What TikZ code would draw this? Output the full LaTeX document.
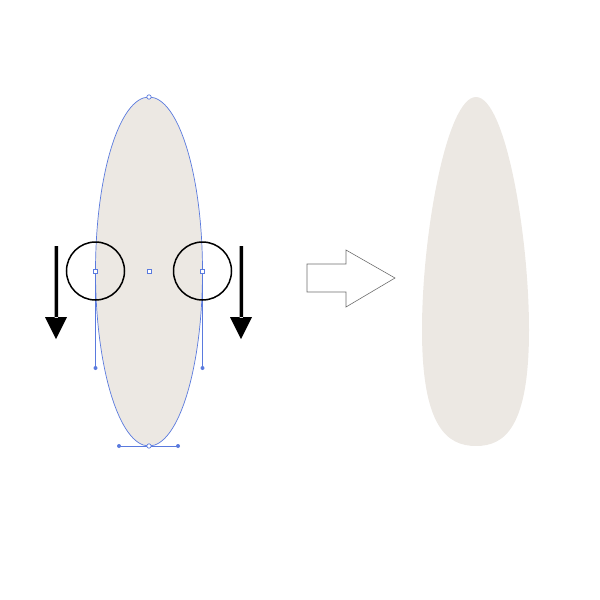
\documentclass[tikz,border=0pt]{standalone}
\usetikzlibrary{calc}
\begin{document}
\begin{tikzpicture}[x=0.5pt,y=-0.5pt,
  shapefill/.style={fill={rgb,255:red,236;green,232;blue,227}},
  pathline/.style={draw={rgb,255:red,90;green,122;blue,222},line width=0.35pt},
  anchorsq/.style={draw={rgb,255:red,90;green,122;blue,222},fill=white,line width=0.35pt},
  handledot/.style={fill={rgb,255:red,90;green,122;blue,222}},
  ringline/.style={draw=black,line width=0.75pt},
  bigarrow/.style={fill=black},
  hollowarrow/.style={draw={rgb,255:red,110;green,110;blue,110},line width=0.3pt,fill=white}]
\useasboundingbox (0,0) rectangle (600,600);
% left shape
\fill[shapefill] (149,271.5) ellipse [x radius=53.5, y radius=174.5];
\draw[pathline] (149,271.5) ellipse [x radius=53.5, y radius=174.5];
% handles
\coordinate (la) at (95.5,271);
\coordinate (ra) at (202.5,271);
\coordinate (lh) at (95.5,368);
\coordinate (rh) at (202.5,368);
\coordinate (bt) at (149,446);
\coordinate (bl) at (119,446);
\coordinate (br) at (178,446);
\coordinate (tp) at (149,97);
\coordinate (ct) at (149,271);
\draw[pathline] (la) -- (lh);
\draw[pathline] (ra) -- (rh);
\draw[pathline] (bl) -- (br);
\fill[handledot] (lh) circle (2);
\fill[handledot] (rh) circle (2);
\fill[handledot] (bl) circle (2);
\fill[handledot] (br) circle (2);
\draw[anchorsq] (tp) circle (2.2);
\draw[anchorsq] (bt) circle (2.2);
\draw[anchorsq] ($(la)+(-2,-2)$) rectangle ++(4,4);
\draw[anchorsq] ($(ra)+(-2,-2)$) rectangle ++(4,4);
\draw[anchorsq] ($(ct)+(-2,-2)$) rectangle ++(4,4);
% rings
\draw[ringline] (la) circle (29);
\draw[ringline] (ra) circle (29);
% down arrows
\fill[bigarrow] (54.5,246) rectangle (58,318) (45,317) -- (67,317) -- (56,339) -- cycle;
\fill[bigarrow] (239.5,246) rectangle (243,318) (230,317) -- (252,317) -- (241,339) -- cycle;
% hollow arrow
\draw[hollowarrow] (307,264) -- (346,264) -- (346,250) -- (395,278) -- (346,307) -- (346,292) -- (307,292) -- cycle;
% right shape
\fill[shapefill] (476,97) .. controls (447,97) and (422,233) .. (422,330)
  .. controls (422,427) and (447,446) .. (476,446)
  .. controls (505,446) and (529,427) .. (529,330)
  .. controls (529,233) and (505,97) .. (476,97) -- cycle;
\end{tikzpicture}
\end{document}
